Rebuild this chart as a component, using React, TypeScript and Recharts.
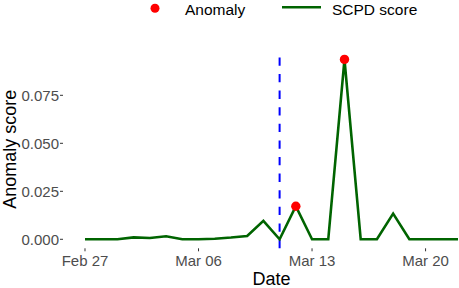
import React from 'react';
import { ComposedChart, Line, Scatter, XAxis, YAxis, ReferenceLine, Legend, Label } from 'recharts';

// Day offsets from Feb 27 (daily observations)
const days = [0, 1, 2, 3, 4, 5, 6, 7, 8, 9, 10, 11, 12, 13, 14, 15, 16, 17, 18, 19, 20, 21, 22, 23];
const scpdScores = [0, 0, 0, 0.001, 0.0007, 0.0016, 0, 0, 0.0003, 0.0009, 0.0017, 0.0096, 0, 0.0172, 0, 0, 0.0937, 0, 0, 0.0134, 0, 0, 0, 0];

const anomalyDays = [13, 16];
const anomalyScores = [0.0172, 0.0937];

const changePointDay = 12;

const xTickDays = [0, 7, 14, 21];
const xTickLabels = ['Feb 27', 'Mar 06', 'Mar 13', 'Mar 20'];
const yTicks = [0, 0.025, 0.05, 0.075];

const lineData = days.map((d, i) => ({ day: d, score: scpdScores[i] }));
const anomalyData = anomalyDays.map((d, i) => ({ day: d, anomaly: anomalyScores[i] }));

const FONT = '"Liberation Sans", Arial, sans-serif';
const GREEN = '#006400';

const renderLegend = () => (
  <svg width={481} height={18} style={{ display: 'block' }}>
    <circle cx={155} cy={8.3} r={4.5} fill="#FF0000" />
    <text x={185} y={15} fontSize={15.5} fontFamily={FONT} fill="#000">Anomaly</text>
    <line x1={282} x2={321} y1={7.3} y2={7.3} stroke={GREEN} strokeWidth={2.6} />
    <text x={332} y={15} fontSize={15.5} fontFamily={FONT} fill="#000">SCPD score</text>
  </svg>
);

const RedDot = (props: any) => {
  const { cx, cy } = props;
  if (cx == null || cy == null) return null;
  return <circle cx={cx} cy={cy} r={4.7} fill="#FF0000" />;
};

export default function App() {
  return (
    <div style={{ position: 'absolute', left: 0, top: 0, width: 459, height: 288, overflow: 'hidden', background: '#fff' }}>
      <ComposedChart
        width={481}
        height={288}
        data={lineData}
        margin={{ top: 32.3, right: 1, bottom: 0, left: 0 }}
      >
        <Legend
          verticalAlign="top"
          content={renderLegend}
          wrapperStyle={{ top: 0, left: 0, width: 481, height: 18, margin: 0, padding: 0 }}
        />
        <XAxis
          type="number"
          dataKey="day"
          domain={[-1.356, 24.356]}
          allowDataOverflow
          ticks={xTickDays}
          tickFormatter={(v: number) => xTickLabels[xTickDays.indexOf(v)] ?? ''}
          axisLine={false}
          tickSize={3}
          tickMargin={4}
          height={39.7}
          stroke="#333333"
          tick={{ fill: '#4D4D4D', fontSize: 15, fontFamily: FONT }}
        >
          <Label
            content={(p: any) => {
              const vb = p.viewBox || {};
              return (
                <text x={vb.x + vb.width / 2} y={vb.y + vb.height - 3} textAnchor="middle" fontSize={18} fontFamily={FONT} fill="#000">
                  Date
                </text>
              );
            }}
          />
        </XAxis>
        <YAxis
          type="number"
          domain={[-0.00469, 0.09844]}
          allowDataOverflow
          ticks={yTicks}
          tickFormatter={(v: number) => v.toFixed(3)}
          axisLine={false}
          tickSize={3}
          tickMargin={1}
          width={63}
          stroke="#333333"
          tick={{ fill: '#4D4D4D', fontSize: 15, fontFamily: FONT }}
        >
          <Label
            content={(p: any) => {
              const vb = p.viewBox || {};
              const cy = vb.y + vb.height / 2;
              return (
                <text x={16} y={cy} transform={`rotate(-90, 16, ${cy})`} textAnchor="middle" fontSize={18} fontFamily={FONT} fill="#000">
                  Anomaly score
                </text>
              );
            }}
          />
        </YAxis>
        <ReferenceLine x={changePointDay} stroke="#0000FF" strokeWidth={2} strokeDasharray="8.3 8.3" />
        <Line
          type="linear"
          dataKey="score"
          stroke={GREEN}
          strokeWidth={2.6}
          dot={false}
          activeDot={false}
          isAnimationActive={false}
        />
        <Scatter data={anomalyData} dataKey="anomaly" shape={RedDot} isAnimationActive={false} />
      </ComposedChart>
    </div>
  );
}
